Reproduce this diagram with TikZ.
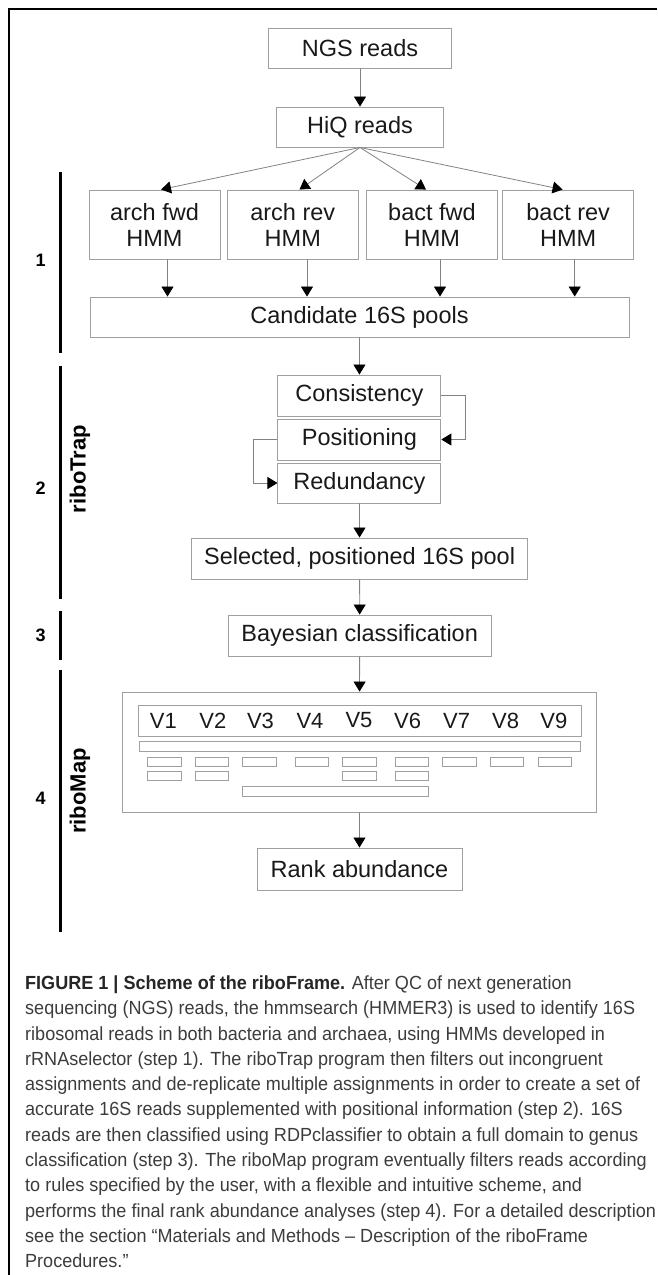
\documentclass[tikz,border=0pt]{standalone}
\usepackage{fontspec}
\setmainfont{Liberation Sans}
\newfontfamily\capfont[FakeStretch=0.95]{Liberation Sans}
\usetikzlibrary{arrows.meta}
\definecolor{boxgray}{RGB}{160,160,160}
\definecolor{linegray}{RGB}{130,130,130}
\definecolor{capgray}{RGB}{60,60,60}

\begin{document}
\begin{tikzpicture}[x=1pt,y=1pt,yscale=-1,xscale=1,
    box/.style={draw=boxgray,line width=0.9pt,inner sep=0pt,align=center,text=black!90,font=\fontsize{23.5}{26}\selectfont},
    flow/.style={draw=linegray,line width=0.8pt,-{Triangle[width=12pt,length=10pt,color=black]}},
    slot/.style={draw=boxgray,line width=0.8pt},
    stepbar/.style={line width=3pt},
    steplab/.style={inner sep=0pt,font=\bfseries\fontsize{18}{20}\selectfont},
    proglab/.style={inner sep=0pt,rotate=90,font=\bfseries\fontsize{22}{24}\selectfont},
    vlab/.style={inner sep=0pt,text=black!90,font=\fontsize{22}{24}\selectfont}]
    \useasboundingbox (0,0) rectangle (657,1275);
    %Shape: Frame
    \draw [line width=2.2pt] (8.7,1275) -- (8.7,9) -- (657,9) ;

    %Shape: Rectangle [step 1]
    \node [box,minimum width=183pt,minimum height=40pt] (ngs) at (360,48) {NGS reads};
    \node [box,minimum width=167pt,minimum height=40pt] (hiq) at (360,127) {HiQ reads};
    \node [box,minimum width=131pt,minimum height=69pt] (afwd) at (154.5,224.5) {arch fwd\\HMM};
    \node [box,minimum width=131pt,minimum height=69pt] (arev) at (292.8,224.5) {arch rev\\HMM};
    \node [box,minimum width=131pt,minimum height=69pt] (bfwd) at (432,224.5) {bact fwd\\HMM};
    \node [box,minimum width=131pt,minimum height=69pt] (brev) at (568.2,224.5) {bact rev\\HMM};
    \node [box,minimum width=539pt,minimum height=40pt] (cand) at (359.5,317) {Candidate 16S pools};
    %Shape: Rectangle [step 2]
    \node [box,minimum width=163pt,minimum height=41pt] (cons) at (359.4,395.5) {Consistency};
    \node [box,minimum width=163pt,minimum height=41pt] (posi) at (359.4,439.5) {Positioning};
    \node [box,minimum width=163pt,minimum height=40pt] (redu) at (359.4,483) {Redundancy};
    \node [box,minimum width=336pt,minimum height=41pt] (sel) at (359.6,558.5) {Selected, positioned 16S pool};
    %Shape: Rectangle [step 3]
    \node [box,minimum width=263pt,minimum height=41pt] (bayes) at (359.7,635.5) {Bayesian classification};
    %Shape: Rectangle [step 4]
    \node [box,minimum width=474pt,minimum height=120pt] (map) at (359.4,752) {};
    \node [box,minimum width=443pt,minimum height=31pt] (vrow) at (359.5,720.5) {};
    \node [box,minimum width=205pt,minimum height=42pt] (rank) at (359.5,869) {Rank abundance};

    % Text Node
    \foreach \v/\cx in {1/163.4,2/212.8,3/260.5,4/310,5/359,6/407.6,7/456.6,8/505.6,9/553.8}
        \node [vlab] (v\v) at (\cx,720.5) {V\v};
    %Shape: Slots
    \draw [slot] (139,741) rectangle (580,751) ;
    \foreach \cx in {164.3,211.9,259.3,311.7,359.3,412,459.5,507,555}
        \draw [slot] (\cx-16.75,757) rectangle (\cx+16.75,766) ;
    \foreach \cx in {164.3,211.9,359.3,412}
        \draw [slot] (\cx-16.75,771) rectangle (\cx+16.75,780) ;
    \draw [slot] (242.5,786) rectangle (428.5,796) ;

    %Straight Lines
    \draw [flow] (ngs) -- (hiq) ;
    \draw [flow] (hiq.south) -- ([xshift=6.5pt]afwd.north) ;
    \draw [flow] (hiq.south) -- ([xshift=6.7pt]arev.north) ;
    \draw [flow] (hiq.south) -- ([xshift=-6pt]bfwd.north) ;
    \draw [flow] (hiq.south) -- ([xshift=-5.6pt]brev.north) ;
    \draw [flow] ([xshift=13pt]afwd.south) -- ([xshift=13pt]afwd.south |- cand.north) ;
    \draw [flow] ([xshift=14.2pt]arev.south) -- ([xshift=14.2pt]arev.south |- cand.north) ;
    \draw [flow] ([xshift=8pt]bfwd.south) -- ([xshift=8pt]bfwd.south |- cand.north) ;
    \draw [flow] ([xshift=6.5pt]brev.south) -- ([xshift=6.5pt]brev.south |- cand.north) ;
    \draw [flow] (cand) -- (cons) ;
    \draw [flow] (cons.east) -- ++(24,0) |- (posi.east) ;
    \draw [flow] (posi.west) -- ++(-24,0) |- (redu.west) ;
    \draw [flow] (redu) -- (sel) ;
    \draw [flow] (sel) -- (bayes) ;
    \draw [flow] (bayes) -- (map) ;
    \draw [flow] (map) -- (rank) ;

    %Straight Lines [step bars]
    \draw [stepbar] (60,172) -- (60,353) ;
    \draw [stepbar] (60,366) -- (60,599) ;
    \draw [stepbar] (60,611) -- (60,660) ;
    \draw [stepbar] (60,670) -- (60,932) ;
    % Text Node
    \node [steplab] (s1) at (40.6,260) {1};
    \node [steplab] (s2) at (40.6,488) {2};
    \node [steplab] (s3) at (40.6,635) {3};
    \node [steplab] (s4) at (40.6,798) {4};
    \node [proglab] (trap) at (80,469) {riboTrap};
    \node [proglab] (rmap) at (80,791) {riboMap};

    % Text Node [caption]
    \node [anchor=north west,inner sep=0pt,align=left,text=capgray,font=\capfont\fontsize{19}{25.3}\selectfont] (cap) at (25,975.5)
    {{\bfseries\color{black!85}FIGURE 1 | Scheme of the riboFrame.} After QC of next generation\\
    sequencing (NGS) reads, the hmmsearch (HMMER3) is used to identify 16S\\
    ribosomal reads in both bacteria and archaea, using HMMs developed in\\
    rRNAselector (step 1). The riboTrap program then filters out incongruent\\
    assignments and de-replicate multiple assignments in order to create a set of\\
    accurate 16S reads supplemented with positional information (step 2). 16S\\
    reads are then classified using RDPclassifier to obtain a full domain to genus\\
    classification (step 3). The riboMap program eventually filters reads according\\
    to rules specified by the user, with a flexible and intuitive scheme, and\\
    performs the final rank abundance analyses (step 4). For a detailed description\\
    see the section “Materials and Methods – Description of the riboFrame\\
    Procedures.”};
\end{tikzpicture}
\end{document}
